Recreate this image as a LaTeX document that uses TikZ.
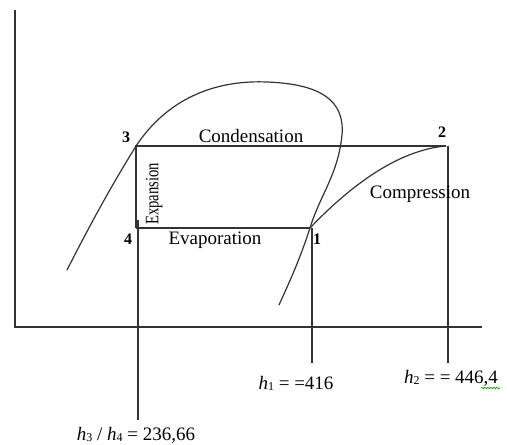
\documentclass[tikz,border=0pt]{standalone}
\usepackage{fontspec}
\usepackage{graphicx}
\setmainfont{Liberation Serif}
\usetikzlibrary{decorations.pathmorphing}
\tikzset{
  ln/.style={draw=black!80, line width=1.2pt},
  proc/.style={inner sep=0pt, font=\fontsize{19}{22}\selectfont},
  ptlab/.style={inner sep=0pt, font=\fontsize{16}{18}\selectfont\bfseries},
  hlab/.style={inner sep=0pt, font=\fontsize{19}{22}\selectfont},
}
\newcommand{\sbs}[1]{\raisebox{-1pt}{\fontsize{12}{12}\selectfont #1}}
\begin{document}
\begin{tikzpicture}[x=1pt,y=-1pt]
\useasboundingbox (0,0) rectangle (507,445);
% axes
\coordinate (ytop) at (15,10);
\coordinate (orig) at (15,327);
\coordinate (xend) at (482,327);
\draw[ln] (ytop) -- (orig) -- (xend);
% cycle points
\coordinate (p3) at (136,146);
\coordinate (p2) at (446,146);
\coordinate (p4) at (136,228);
\coordinate (p1) at (310,228);
% saturation dome
\coordinate (dl) at (67,270);
\coordinate (dtop) at (267,82);
\coordinate (dright) at (342,135);
\coordinate (dend) at (279,305);
\draw[ln] (dl) .. controls (95,215) and (115,180) .. (p3)
  .. controls (170,95) and (220,80) .. (dtop)
  .. controls (320,84) and (345,100) .. (dright)
  .. controls (338,175) and (320,195) .. (p1)
  .. controls (299,262) and (288,285) .. (dend);
% cycle
\draw[ln] (p4) -- (p3) -- (p2);
\draw[ln] (p4) -- (p1);
\draw[ln] (p1) .. controls (350,186) and (398,150) .. (p2);
% projection lines
\coordinate (e3top) at (138,220);
\coordinate (e3) at (138,420);
\coordinate (e1) at (312,363);
\coordinate (p1v) at (312,228);
\coordinate (p2v) at (448,146);
\coordinate (e2) at (448,363);
\draw[ln] (e3top) -- (e3);
\draw[ln] (p1v) -- (e1);
\draw[ln] (p2v) -- (e2);
% point labels
\node[ptlab] (l3) at (126,137) {3};
\node[ptlab] (l2) at (442,132) {2};
\node[ptlab] (l4) at (128,239) {4};
\node[ptlab] (l1) at (317,239) {1};
% process labels
\node[proc] (cond) at (251,136) {Condensation};
\node[proc] (evap) at (215,240) {Evaporation};
\node[proc] (comp) at (420,194) {Compression};
\node[proc, rotate=90] (expa) at (154,194) {\scalebox{0.77}[1]{Expansion}};
% enthalpy labels
\node[hlab] (h1) at (296,383) {\textit{h}\sbs{1} = =416};
\node[hlab] (h2) at (451,378) {\textit{h}\sbs{2} = = 446,4};
\node[hlab] (h34) at (136,435) {\textit{h}\sbs{3} / \textit{h}\sbs{4} = 236,66};
\coordinate (sq1) at (481,388);
\coordinate (sq2) at (500,388);
\draw[green!60!black, line width=0.6pt, decorate, decoration={snake, amplitude=0.9pt, segment length=3pt}] (sq1) -- (sq2);
\end{tikzpicture}
\end{document}
